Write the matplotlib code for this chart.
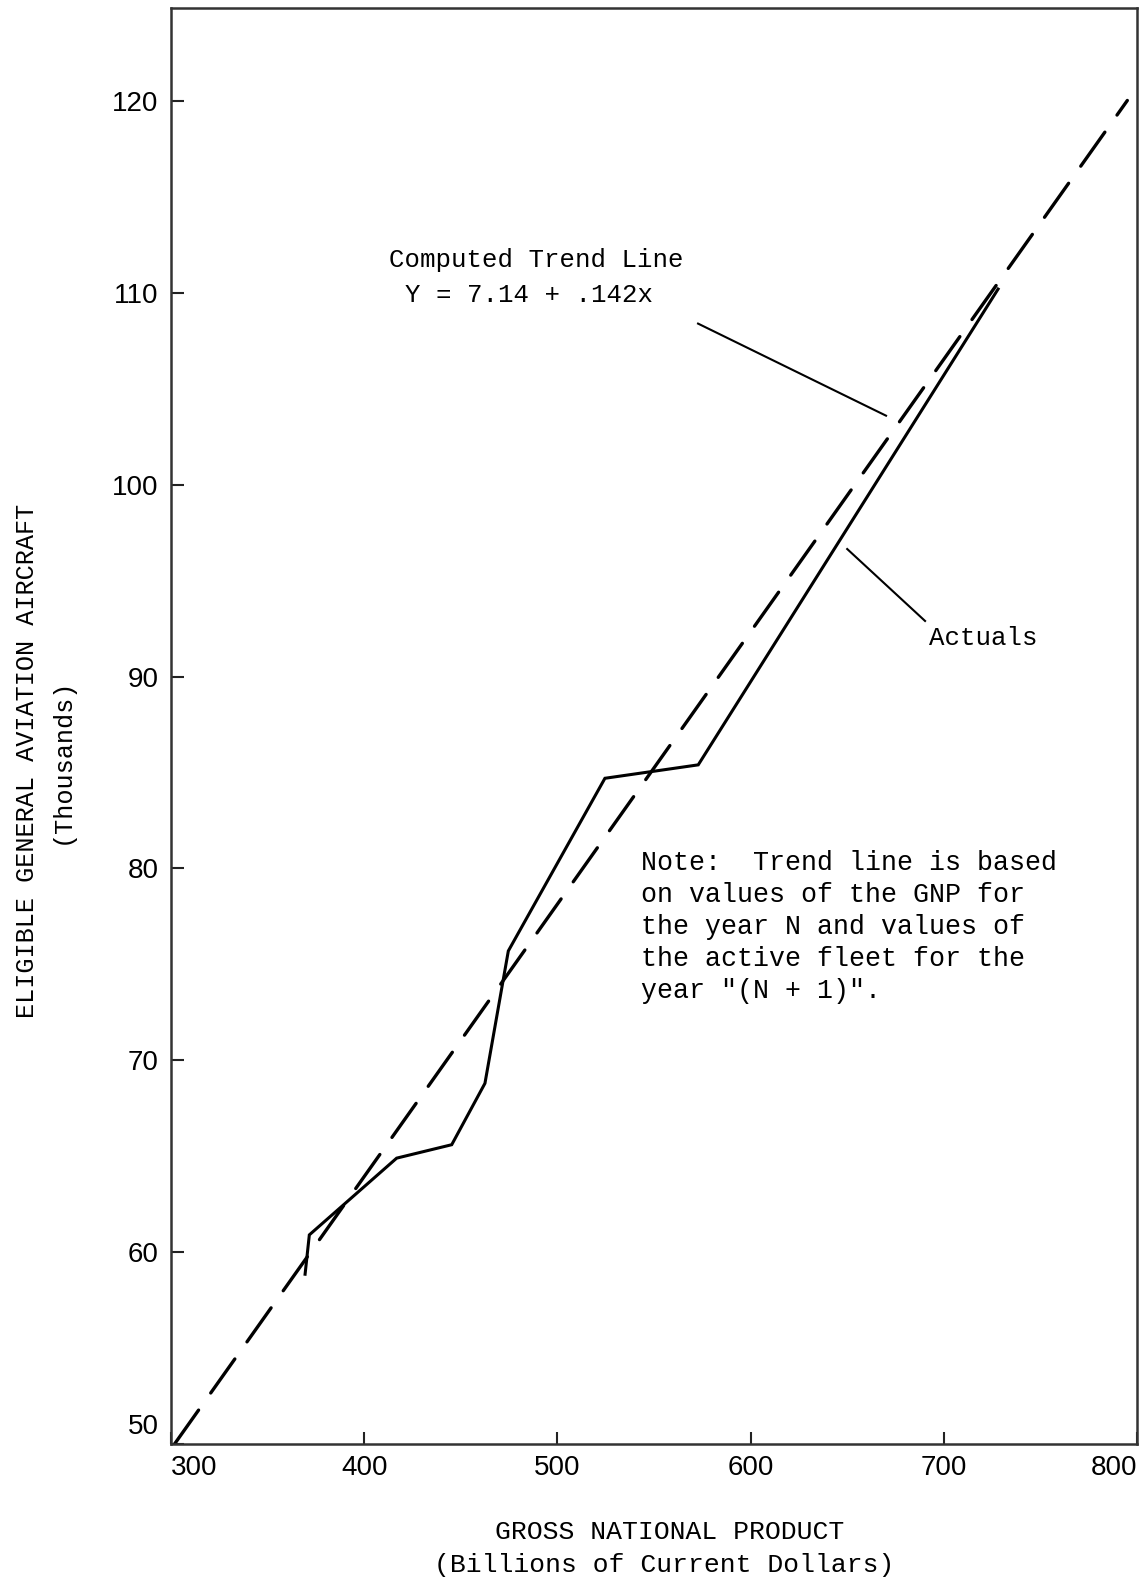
import matplotlib
matplotlib.use('Agg')
import matplotlib.pyplot as plt
import matplotlib.transforms as mtransforms
import numpy as np

# --- Data ---
gnp_actual = [369.4, 371.6, 416.8, 445.3, 462.5, 474.6, 524.6, 572.9, 728.1]
fleet_actual = [58.85, 60.9, 64.9, 65.6, 68.8, 75.7, 84.7, 85.4, 110.2]

trend_a, trend_b = 7.14, 0.142
trend_x = np.array([301.8, 795.0])

x_ticks = [300, 400, 500, 600, 700, 800]
y_ticks = [50, 60, 70, 80, 90, 100, 110, 120]

mono = 'Liberation Mono'
tick_font = ['Liberation Sans Narrow', 'Liberation Sans', 'DejaVu Sans']

W, H = 1140, 1581
fig = plt.figure(figsize=(W / 100, H / 100), dpi=100)
ax = fig.add_axes([171 / W, 1 - 1444 / H, (1137 - 171) / W, (1444 - 8) / H])

# trend line and actuals
ax.plot(trend_x, trend_a + trend_b * trend_x, color='black', lw=2.4,
        linestyle=(0, (12.5, 6.3)), solid_capstyle='round', dash_capstyle='round')
ax.plot(gnp_actual, fleet_actual, color='black', lw=2.2, solid_joinstyle='miter')

# leader lines for the labels
ax.plot([572.8, 670.1], [108.4, 103.6], color='black', lw=1.5)
ax.plot([650.0, 690.3], [96.65, 92.9], color='black', lw=1.5)

ax.set_xlim(300, 800)
ax.set_ylim(50, 124.85)
ax.set_xticks(x_ticks)
ax.set_yticks(y_ticks)
ax.tick_params(direction='in', length=9, width=1.5, color='#222222',
               labelsize=20, pad=8)
ax.tick_params(axis='y', pad=9)
for lab in ax.get_xticklabels() + ax.get_yticklabels():
    lab.set_family(tick_font)

xl = ax.get_xticklabels()
xl[0].set_horizontalalignment('left')
xl[-1].set_horizontalalignment('right')
yl = ax.get_yticklabels()
yl[0].set_verticalalignment('bottom')
yl[0].set_transform(yl[0].get_transform() +
                    mtransforms.ScaledTranslation(0, 4 / 100, fig.dpi_scale_trans))

for s in ax.spines.values():
    s.set_linewidth(1.8)
    s.set_color('#333333')

# annotations
def ftext(x, y, s, **kw):
    fig.text(x / W, 1 - y / H, s, family=mono, color='black', **kw)

ftext(536, 260, 'Computed Trend Line', fontsize=18.5, ha='center', va='center')
ftext(529, 295, 'Y = 7.14 + .142x', fontsize=18.5, ha='center', va='center')
ftext(929, 638, 'Actuals', fontsize=18.5, ha='left', va='center')
ftext(641, 850, 'Note:  Trend line is based\non values of the GNP for\n'
      'the year N and values of\nthe active fleet for the\nyear "(N + 1)".',
      fontsize=19.2, ha='left', va='top', linespacing=1.3)

# axis titles
ftext(27, 761, 'ELIGIBLE GENERAL AVIATION AIRCRAFT', fontsize=18.2,
      rotation=90, ha='center', va='center')
ftext(62, 761, '(Thousands)', fontsize=18.2, rotation=90, ha='center', va='center')
ftext(670, 1532, 'GROSS NATIONAL PRODUCT', fontsize=19, ha='center', va='center')
ftext(664, 1565, '(Billions of Current Dollars)', fontsize=19, ha='center', va='center')

fig.savefig('out.png', dpi=100)
